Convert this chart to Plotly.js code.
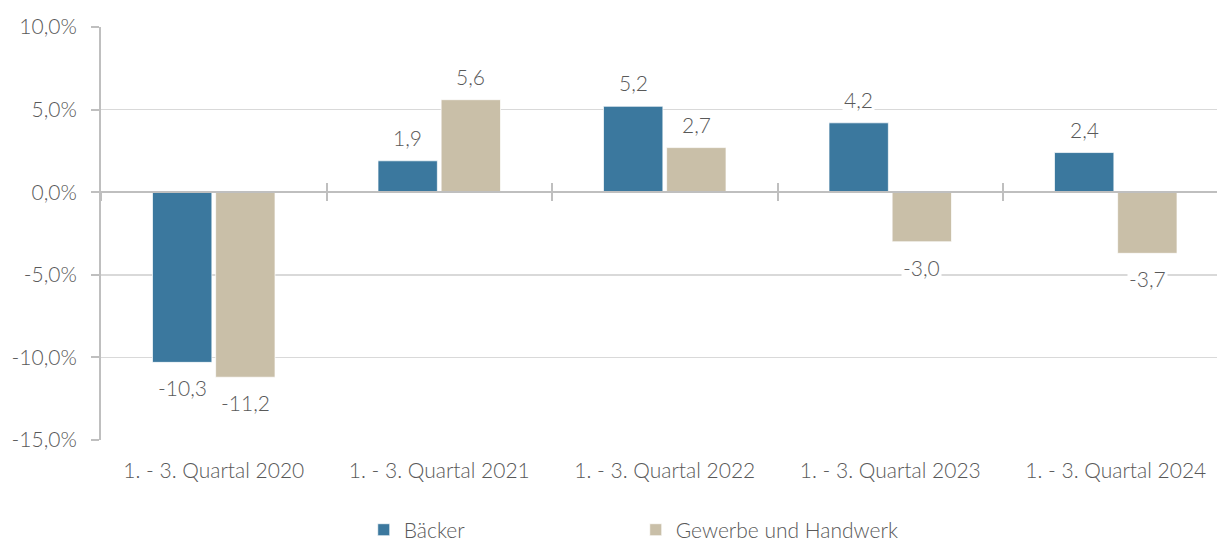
<!DOCTYPE html>
<html><head><meta charset="utf-8">
<script src="https://cdn.plot.ly/plotly-3.0.1.min.js"></script>
<style>html,body{margin:0;padding:0;background:#fff}#chart{width:1219px;height:542px}</style>
</head><body><div id="chart"></div>
<script>
const categories = ["1. - 3. Quartal 2020","1. - 3. Quartal 2021","1. - 3. Quartal 2022","1. - 3. Quartal 2023","1. - 3. Quartal 2024"];
const seriesNames = ["Bäcker","Gewerbe und Handwerk"];
const baecker = [-10.3, 1.9, 5.2, 4.2, 2.4];
const gewerbe = [-11.2, 5.6, 2.7, -3.0, -3.7];
const yTicks = [-15, -10, -5, 0, 5, 10];
const colors = ["#3B789E", "#C9BFA8"];

const FONT = "Lato, 'Open Sans', sans-serif";
const GREY = "#595959";
const series = [baecker, gewerbe];
const offsets = [-0.14, 0.14];
const fmt = v => v.toFixed(1).replace(".", ",");

const traces = series.map((vals, i) => ({
  type: "bar", name: seriesNames[i], x: categories, y: vals,
  marker: {color: colors[i], line: {color: "rgba(255,255,255,0.7)", width: 1}},
  hoverinfo: "skip"
}));
traces.push({type:"scatter", x: categories, y: categories.map(()=>null), xaxis:"x2", showlegend:false, hoverinfo:"skip"});
traces.push({type:"scatter", x: categories, y: categories.map(()=>null), xaxis:"x3", showlegend:false, hoverinfo:"skip"});

const annotations = [];
series.forEach((vals, i) => vals.forEach((v, j) => {
  annotations.push({
    x: j + offsets[i], y: v, xref: "x", yref: "y",
    text: fmt(v), showarrow: false,
    yanchor: v >= 0 ? "bottom" : "top", yshift: v >= 0 ? 9 : -11,
    bgcolor: "#ffffff", borderpad: 1,
    font: {family: FONT, size: 21, color: GREY, weight: 300}
  });
}));

const xr = [-0.5, 4.449];
const zeroPos = 15/25;
const layout = {
  width: 1219, height: 542,
  margin: {l: 101, r: 2, t: 27, b: 102},
  paper_bgcolor: "#fff", plot_bgcolor: "#fff",
  separators: ",.",
  font: {family: FONT, size: 21, color: GREY, weight: 300},
  barmode: "group", bargap: 0.44, bargroupgap: 0.06,
  showlegend: true,
  legend: {orientation: "h", x: 0.2984, xanchor: "left", xref: "container", y: 0.022, yanchor: "middle", yref: "container",
    itemwidth: 30,
    font: {family: FONT, size: 21, color: GREY, weight: 300}, entrywidth: 227, entrywidthmode: "pixels", itemclick: false},
  xaxis: {type: "category", categoryorder: "array", categoryarray: categories, range: xr,
    showgrid: false, zeroline: false, showline: false, ticks: "",
    ticklabelstandoff: 16, tickfont: {family: FONT, size: 21, color: GREY, weight: 300}, fixedrange: true},
  xaxis2: {type: "category", overlaying: "x", anchor: "free", position: zeroPos, side: "bottom",
    categoryorder: "array", categoryarray: categories, range: xr,
    showgrid: false, zeroline: false, showline: true, linecolor: "#BFBFBF", linewidth: 2,
    tickson: "boundaries", ticks: "inside", ticklen: 8, tickcolor: "#BFBFBF", tickwidth: 2,
    showticklabels: false},
  xaxis3: {type: "category", overlaying: "x", anchor: "free", position: zeroPos, side: "bottom",
    categoryorder: "array", categoryarray: categories, range: xr,
    showgrid: false, zeroline: false, showline: false,
    tickson: "boundaries", ticks: "outside", ticklen: 8, tickcolor: "#BFBFBF", tickwidth: 2,
    showticklabels: false},
  yaxis: {range: [-15, 10], tickmode: "array", tickvals: yTicks, ticktext: yTicks.map(v => fmt(v) + "%"),
    showgrid: true, gridcolor: "#D9D9D9", gridwidth: 1.5, zeroline: false,
    showline: true, linecolor: "#BFBFBF", linewidth: 2,
    ticks: "outside", ticklen: 8, tickcolor: "#BFBFBF", tickwidth: 2,
    ticklabelstandoff: 10,
    tickfont: {family: FONT, size: 21, color: GREY, weight: 300}, fixedrange: true},
  annotations: annotations
};
Plotly.newPlot("chart", traces, layout, {displayModeBar: false, staticPlot: true});
</script></body></html>
